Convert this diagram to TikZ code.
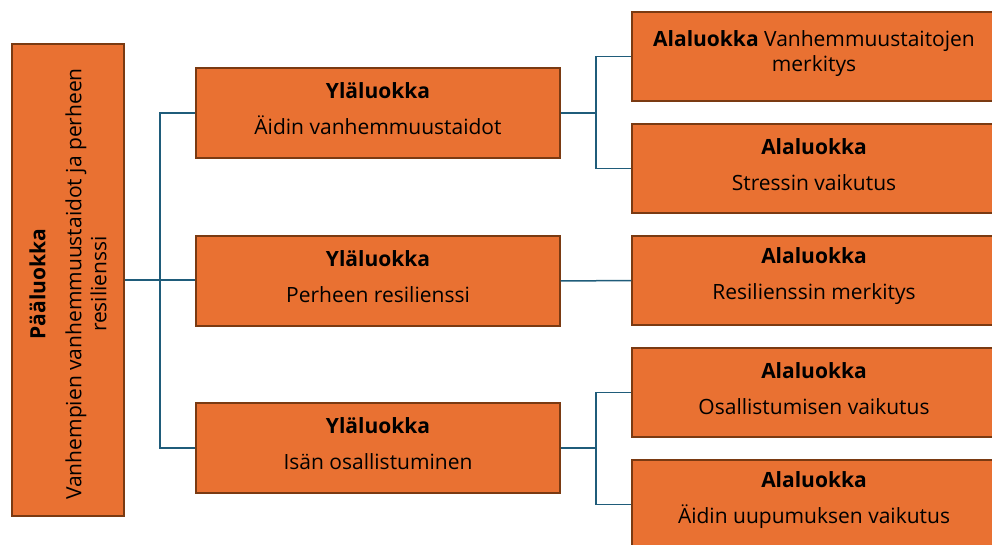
\documentclass[tikz,border=0pt]{standalone}
\usepackage{fontspec}
\setmainfont{Open Sans}
\begin{document}
\begin{tikzpicture}[x=1pt,y=-1pt,
  box/.style={draw=boxborder, fill=boxfill, line width=1.4pt, rectangle, inner sep=0pt},
  txt/.style={align=center, font=\fontsize{21}{25}\selectfont, text=black, inner sep=0pt},
  conn/.style={draw=connblue, line width=1.5pt}]
\definecolor{boxfill}{HTML}{E97132}
\definecolor{boxborder}{HTML}{7A3A12}
\definecolor{connblue}{HTML}{1F5C7A}
\useasboundingbox (0,0) rectangle (992,545);
\clip (0,0) rectangle (992,545);
% main
\node[box, minimum width=112pt, minimum height=472pt] (p) at (68,280) {};
\node[txt, rotate=90, xshift=-4pt] (pt) at (p.center) {\textbf{Pääluokka}\\[11pt]Vanhempien vanhemmuustaidot ja perheen\\resilienssi};
% middle
\node[box, minimum width=364pt, minimum height=90pt] (m1) at (378,113) {};
\node[txt, yshift=4pt] (m1t) at (m1.center) {\textbf{Yläluokka}\\[11pt]Äidin vanhemmuustaidot};
\node[box, minimum width=364pt, minimum height=90pt] (m2) at (378,281) {};
\node[txt, yshift=4pt] (m2t) at (m2.center) {\textbf{Yläluokka}\\[11pt]Perheen resilienssi};
\node[box, minimum width=364pt, minimum height=90pt] (m3) at (378,448) {};
\node[txt, yshift=4pt] (m3t) at (m3.center) {\textbf{Yläluokka}\\[11pt]Isän osallistuminen};
% right
\node[box, minimum width=364pt, minimum height=89pt] (r1) at (814,56.5) {};
\node[txt, yshift=3pt] (r1t) at (r1.center) {\textbf{Alaluokka} Vanhemmuustaitojen\\merkitys};
\node[box, minimum width=364pt, minimum height=89pt] (r2) at (814,168.5) {};
\node[txt, yshift=4pt] (r2t) at (r2.center) {\textbf{Alaluokka}\\[11pt]Stressin vaikutus};
\node[box, minimum width=364pt, minimum height=89pt] (r3) at (814,280.5) {};
\node[txt, yshift=4pt] (r3t) at (r3.center) {\textbf{Alaluokka}\\[11pt]Resilienssin merkitys};
\node[box, minimum width=364pt, minimum height=89pt] (r4) at (814,392.5) {};
\node[txt, yshift=4pt] (r4t) at (r4.center) {\textbf{Alaluokka}\\[11pt]Osallistumisen vaikutus};
\node[box, minimum width=364pt, minimum height=89pt] (r5) at (814,504.5) {};
\node[txt, yshift=4pt] (r5t) at (r5.center) {\textbf{Alaluokka}\\[11pt]Äidin uupumuksen vaikutus};
% connectors
\coordinate (j0) at (160,280);
\coordinate (j1) at (596,113);
\coordinate (j2) at (596,448);
\draw[conn] (p.east) -- (j0);
\draw[conn] (j0) |- (m1.west);
\draw[conn] (j0) -- (m2.west |- j0);
\draw[conn] (j0) |- (m3.west);
\draw[conn] (m1.east) -- (j1);
\draw[conn] (j1) |- (r1.west);
\draw[conn] (j1) |- (r2.west);
\draw[conn] (m2.east) -- (r3.west);
\draw[conn] (m3.east) -- (j2);
\draw[conn] (j2) |- (r4.west);
\draw[conn] (j2) |- (r5.west);
\end{tikzpicture}
\end{document}
